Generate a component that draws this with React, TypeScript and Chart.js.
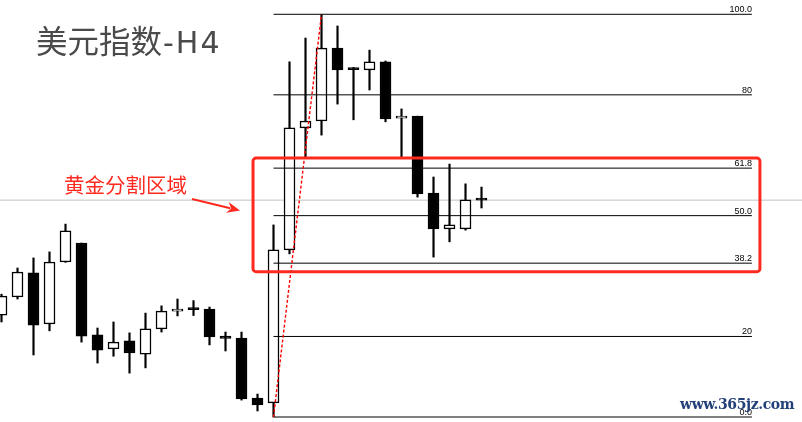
import React, { useEffect, useRef } from "react";
import { Chart, registerables } from "chart.js";

Chart.register(...registerables);

// Candle data (values expressed on the Fibonacci percentage scale of the swing)
const opens = [25.3, 29.8, 35.8, 23.1, 38.5, 43.2, 20.4, 16.9, 18.9, 15.6, 21.9, 26.3, 26.75, 26.8, 20.1, 19.6, 4.7, 3.5, 41.5, 71.8, 73.5, 91.6, 86.35, 86.2, 88.2, 74.2, 74.7, 55.6, 46.7, 46.7, 53.95];
const closes = [30.0, 36.0, 22.8, 38.5, 46.2, 20.1, 16.6, 18.6, 15.9, 21.9, 26.3, 26.8, 26.65, 19.9, 19.5, 4.5, 3.0, 41.5, 71.8, 73.5, 91.6, 86.2, 86.25, 88.2, 74.0, 74.7, 55.4, 46.7, 47.7, 53.9, 53.85];
const highs = [30.5, 37.0, 39.5, 41.0, 47.9, 43.2, 22.1, 23.6, 20.9, 25.8, 27.6, 29.3, 28.9, 27.3, 21.1, 21.1, 5.7, 47.7, 88.2, 94.1, 100, 97.1, 86.8, 91.1, 88.4, 76.5, 74.7, 59.6, 62.8, 57.9, 57.1];
const lows = [23.6, 29.3, 15.4, 21.4, 38.4, 18.6, 13.4, 15.1, 10.9, 12.2, 21.1, 25.1, 25.2, 17.9, 16.4, 4.2, 1.5, 0, 40.5, 64.6, 70.0, 77.7, 73.8, 81.2, 73.3, 64.6, 54.6, 39.7, 43.5, 46.4, 51.9];

// Fibonacci retracement
const fibLevels = [100, 80, 61.8, 50, 38.2, 20, 0];
const fibLabels = ["100.0", "80", "61.8", "50.0", "38.2", "20", "0.0"];
const fibStartIndex = 17; // swing low candle
const fibHighIndex = 20; // swing high candle
const fibEndX = 46.9;
const lastPrice = closes[closes.length - 1];

// golden zone
const zoneTop = 64.3;
const zoneBottom = 36.1;
const zoneLeftX = 15.72;
const zoneRightX = 47.4;

const titleMain = "美元指数";
const titleSuffix = "-H4";
const zoneLabel = "黄金分割区域";
const watermark = "www.365jz.com";

export default function App() {
  const ref = useRef<HTMLCanvasElement | null>(null);
  useEffect(() => {
    const canvas = ref.current;
    if (!canvas) return;
    const idx = opens.map((_, i) => i);
    const bodyColors = idx.map((i) => (closes[i] > opens[i] ? "#ffffff" : "#000000"));

    const overlay = {
      id: "overlay",
      afterDatasetsDraw(chart: any) {
        const ctx = chart.ctx;
        const xs = chart.scales.x;
        const ys = chart.scales.y;
        ctx.save();
        // fib labels
        ctx.fillStyle = "#000";
        ctx.font = "9px 'Liberation Sans', Arial, sans-serif";
        ctx.textAlign = "right";
        ctx.textBaseline = "alphabetic";
        const xr = xs.getPixelForValue(fibEndX);
        fibLevels.forEach((lv, k) => {
          ctx.fillText(fibLabels[k], xr, Math.round(ys.getPixelForValue(lv)) - 2);
        });
        // golden zone rectangle
        const l = xs.getPixelForValue(zoneLeftX);
        const r = xs.getPixelForValue(zoneRightX);
        const t = ys.getPixelForValue(zoneTop);
        const b = ys.getPixelForValue(zoneBottom);
        ctx.strokeStyle = "#ff2a1f";
        ctx.lineWidth = 3;
        ctx.beginPath();
        (ctx as any).roundRect(l, t, r - l, b - t, 3);
        ctx.stroke();
        // arrow
        const x1 = 192, y1 = 199, x2 = 240, y2 = 210.5;
        const ang = Math.atan2(y2 - y1, x2 - x1);
        ctx.lineWidth = 2;
        ctx.beginPath();
        ctx.moveTo(x1, y1);
        ctx.lineTo(x2 - 10 * Math.cos(ang), y2 - 10 * Math.sin(ang));
        ctx.stroke();
        ctx.fillStyle = "#ff2a1f";
        ctx.beginPath();
        ctx.moveTo(x2, y2);
        const hl = 13, hw = 5.5;
        const bx = x2 - hl * Math.cos(ang), by = y2 - hl * Math.sin(ang);
        ctx.lineTo(bx + hw * Math.sin(ang), by - hw * Math.cos(ang));
        ctx.lineTo(x2 - 9 * Math.cos(ang), y2 - 9 * Math.sin(ang));
        ctx.lineTo(bx - hw * Math.sin(ang), by + hw * Math.cos(ang));
        ctx.closePath();
        ctx.fill();
        ctx.restore();
      },
    };

    const fibDatasets = fibLevels.map((lv) => ({
      type: "line" as const,
      data: [
        { x: fibStartIndex, y: lv },
        { x: fibEndX, y: lv },
      ],
      borderColor: "#000000",
      borderWidth: 1,
      pointRadius: 0,
      fill: false,
      order: 0,
    }));

    const chart = new Chart(canvas, {
      type: "bar",
      data: {
        datasets: [
          {
            type: "line",
            data: [
              { x: -2, y: lastPrice },
              { x: 52, y: lastPrice },
            ],
            borderColor: "#c0c0c0",
            borderWidth: 1,
            pointRadius: 0,
            fill: false,
            order: 5,
          },
          {
            type: "bar",
            data: idx.map((i) => ({ x: i, y: [lows[i], highs[i]] })),
            backgroundColor: "#000000",
            borderWidth: 0,
            barThickness: 1.5,
            grouped: false,
            order: 2,
          },
          {
            type: "bar",
            data: idx.map((i) => ({ x: i, y: [opens[i], closes[i]] })),
            backgroundColor: bodyColors,
            borderColor: "#000000",
            borderWidth: 1.5,
            borderSkipped: false,
            barThickness: 11,
            minBarLength: 2,
            grouped: false,
            order: 1,
          },
          ...fibDatasets,
          {
            type: "line",
            data: [
              { x: fibStartIndex, y: fibLevels[fibLevels.length - 1] },
              { x: fibHighIndex, y: fibLevels[0] },
            ],
            borderColor: "#ff0000",
            borderWidth: 1.4,
            borderDash: [3, 2],
            pointRadius: 0,
            fill: false,
            order: -1,
          },
        ] as any,
      },
      options: {
        animation: false,
        responsive: false,
        devicePixelRatio: 1,
        layout: { padding: 0 },
        plugins: { legend: { display: false }, tooltip: { enabled: false } },
        scales: {
          x: { type: "linear", min: -0.094, max: 50.03, offset: false, display: false },
          y: { type: "linear", min: -1.24, max: 103.55, display: false },
        },
      } as any,
      plugins: [overlay],
    });
    return () => chart.destroy();
  }, []);

  return (
    <div style={{ position: "fixed", left: 0, top: 0, width: 802, height: 422, background: "#fff", overflow: "hidden" }}>
      <canvas ref={ref} width={802} height={422} style={{ display: "block", width: 802, height: 422 }} />
      <div
        style={{
          position: "absolute",
          left: 36,
          top: 24,
          fontFamily: "'Noto Sans CJK SC', sans-serif",
          fontSize: 31.5,
          lineHeight: "31.5px",
          color: "#4a4a4a",
          whiteSpace: "nowrap",
        }}
      >
        {titleMain}
        <span style={{ fontFamily: "'DejaVu Sans', sans-serif", fontSize: 30, letterSpacing: 2, marginLeft: 1 }}>{titleSuffix}</span>
      </div>
      <div
        style={{
          position: "absolute",
          left: 64,
          top: 174,
          fontFamily: "'Noto Sans CJK SC', sans-serif",
          fontSize: 20.5,
          lineHeight: "20.5px",
          color: "#ff2a1f",
          whiteSpace: "nowrap",
        }}
      >
        {zoneLabel}
      </div>
      <div
        style={{
          position: "absolute",
          left: 680,
          top: 397,
          fontFamily: "'DejaVu Serif', serif",
          fontWeight: "bold",
          fontSize: 14,
          letterSpacing: -0.4,
          lineHeight: "15px",
          color: "#23407a",
          whiteSpace: "nowrap",
        }}
      >
        {watermark}
      </div>
    </div>
  );
}
